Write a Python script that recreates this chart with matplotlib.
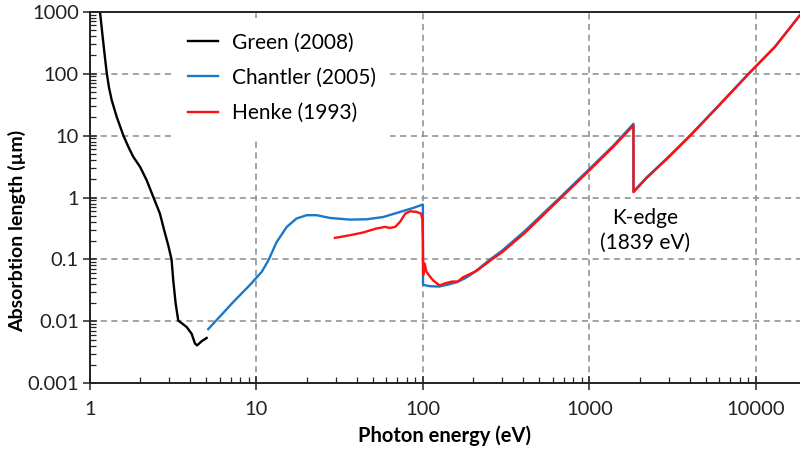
import numpy as np
import matplotlib.pyplot as plt
from matplotlib.ticker import FixedLocator, LogLocator, NullFormatter

plt.rcParams['font.family'] = ['Lato', 'DejaVu Sans']

# Green (2008), photon energy (eV) vs absorption length (um)
green_e = [1.12, 1.148, 1.18, 1.22, 1.26, 1.30, 1.35, 1.447, 1.585, 1.70, 1.82, 2.0, 2.19,
           2.40, 2.63, 2.79, 2.95, 3.09, 3.16, 3.27, 3.39, 3.55, 3.81, 4.08, 4.27, 4.4,
           4.69, 5.02]
green_l = [2500, 1000, 500, 220, 103, 60, 37.3, 20, 10.1, 6.57, 4.53, 3.12, 1.9,
           1.02, 0.55, 0.296, 0.17, 0.1, 0.047, 0.0194, 0.0103, 0.0094, 0.0081, 0.0063,
           0.0044, 0.0041, 0.0048, 0.0054]

# Chantler (2005)
chantler_e = [5.13, 7.26, 9.15, 10.75, 11.8, 13.2, 15.2, 17.4, 20, 23, 27.6, 36.4,
              45.9, 57.8, 72.8, 87.5, 99.9, 100.1, 110, 125, 140, 160, 180, 200, 253,
              300, 410, 665, 1007, 1400, 1838, 1840, 2200, 3000, 4015, 6000, 9200,
              13000, 18400]
chantler_l = [0.0075, 0.0206, 0.039, 0.063, 0.097, 0.19, 0.335, 0.458, 0.518, 0.518,
              0.468, 0.44, 0.445, 0.485, 0.585, 0.68, 0.77, 0.039, 0.037, 0.0365, 0.039,
              0.043, 0.05, 0.06, 0.1, 0.14, 0.29, 1.0, 2.95, 7.0, 15.5, 1.25, 2.1, 4.6,
              10, 31, 105, 270, 880]

# Henke (1993)
henke_e = [29.6, 36.4, 43.6, 52.6, 59.1, 63.1, 68, 72.8, 78.3, 83.9, 91.6, 97.3, 99.2,
           99.9, 100.3, 102.4, 105, 109, 115, 126, 135, 150, 162, 174, 211, 254, 300,
           410, 665, 1007, 1400, 1838, 1840, 2200, 3000, 4015, 6000, 9200, 13000, 18400]
henke_l = [0.223, 0.246, 0.272, 0.316, 0.335, 0.323, 0.335, 0.404, 0.55, 0.6, 0.585,
           0.55, 0.45, 0.2, 0.056, 0.086, 0.063, 0.055, 0.046, 0.038, 0.041, 0.044,
           0.044, 0.0515, 0.066, 0.096, 0.132, 0.27, 0.95, 2.8, 6.7, 14.6, 1.22, 2.05,
           4.5, 9.8, 30.5, 104, 270, 880]

x_ticks = [1, 10, 100, 1000, 10000]
x_labels = ['1', '10', '100', '1000', '10000']
y_ticks = [0.001, 0.01, 0.1, 1, 10, 100, 1000]
y_labels = ['0.001', '0.01', '0.1', '1', '10', '100', '1000']

fig = plt.figure(figsize=(8, 4.58), dpi=100)
ax = fig.add_axes([0.1125, 0.163, 0.8875, 0.8115])

ax.plot(green_e, green_l, color='black', lw=1.7, label='Green (2008)')
ax.plot(chantler_e, chantler_l, color='#1a78c8', lw=1.7, label='Chantler (2005)')
ax.plot(henke_e, henke_l, color='#ff1010', lw=1.7, label='Henke (1993)')

ax.set_xscale('log')
ax.set_yscale('log')
ax.set_xlim(1, 18400)
ax.set_ylim(0.001, 1000)

ax.xaxis.set_major_locator(FixedLocator(x_ticks))
ax.set_xticklabels(x_labels)
ax.yaxis.set_major_locator(FixedLocator(y_ticks))
ax.set_yticklabels(y_labels)
ax.xaxis.set_minor_locator(LogLocator(base=10, subs=np.arange(2, 10), numticks=20))
ax.yaxis.set_minor_locator(LogLocator(base=10, subs=np.arange(2, 10), numticks=20))
ax.xaxis.set_minor_formatter(NullFormatter())
ax.yaxis.set_minor_formatter(NullFormatter())

ax.tick_params(which='major', direction='inout', length=10, width=1.1, labelsize=14.5,
               colors='#222222')
ax.tick_params(axis='x', which='major', pad=8)
ax.tick_params(axis='y', which='major', pad=3)
ax.tick_params(which='minor', direction='in', length=4, width=0.9, color='#222222')

ax.grid(True, which='major', color='#8a8a8a', linestyle=(0, (4, 3)), lw=1.1)
for s in ['left', 'bottom', 'top']:
    ax.spines[s].set_linewidth(1.4)
    ax.spines[s].set_color('#222222')
ax.spines['right'].set_visible(False)

ax.set_xlabel('Photon energy (eV)', fontsize=14.5, fontweight='bold', labelpad=5)
ax.set_ylabel('Absorbtion length (µm)', fontsize=14, fontweight='bold')
ax.yaxis.set_label_coords(-0.09, 0.41)

ax.text(2150, 0.296, 'K-edge\n(1839 eV)', ha='center', va='center', fontsize=15,
        linespacing=1.3)

leg = ax.legend(loc='upper left', bbox_to_anchor=(173 / 800, 1 - 18 / 458),
                bbox_transform=fig.transFigure, borderaxespad=0, fontsize=15,
                frameon=True, facecolor='white', edgecolor='none', framealpha=1,
                handlelength=1.44, handletextpad=0.67, labelspacing=0.73, borderpad=0.7,
                fancybox=False)
leg.get_frame().set_linewidth(0)

fig.savefig('out.png', dpi=100)
